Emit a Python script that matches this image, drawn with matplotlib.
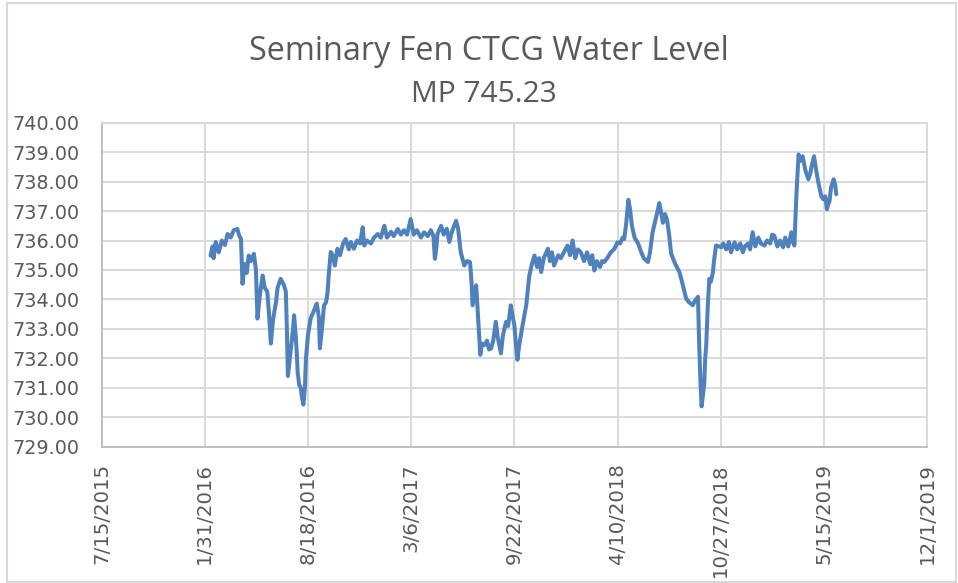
"""Seminary Fen CTCG water level, Excel-style line chart."""
import matplotlib
matplotlib.use("Agg")
import matplotlib.dates as mdates
import matplotlib.pyplot as plt
import numpy as np
import pandas as pd
from matplotlib.patches import Rectangle

TITLE = "Seminary Fen CTCG Water Level"
SUBTITLE = "MP 745.23"
START_DATE = "2015-07-15"
END_DATE = "2019-12-01"
TICK_STEP_DAYS = 200
Y_TICKS = np.arange(729, 741, 1)

# days since START_DATE
DAYS = [
    211, 215, 217, 221, 227, 233, 239, 244, 250, 256, 263, 266, 270, 273, 277, 281, 285, 289, 295, 299,
    302, 307, 312, 316, 321, 324, 328, 332, 338, 341, 347, 353, 357, 359, 361, 367, 371, 373, 376, 378,
    380, 383, 386, 388, 391, 394, 396, 400, 405, 411, 417, 421, 423, 427, 431, 435, 438, 440, 444, 448,
    452, 457, 462, 468, 473, 479, 483, 489, 495, 501, 506, 509, 514, 522, 528, 535, 541, 548, 553, 561,
    566, 574, 580, 586, 592, 599, 605, 611, 619, 625, 632, 638, 643, 646, 649, 651, 658, 663, 669, 674,
    679, 687, 691, 696, 703, 708, 714, 717, 719, 722, 726, 728, 731, 734, 737, 742, 747, 751, 755, 759,
    764, 768, 774, 778, 784, 788, 793, 797, 800, 803, 806, 809, 816, 823, 829, 834, 839, 844, 848, 852,
    857, 865, 869, 873, 877, 885, 890, 896, 903, 908, 913, 918, 923, 929, 935, 941, 947, 951, 955, 960,
    966, 970, 974, 980, 987, 994, 1000, 1005, 1010, 1013, 1017, 1021, 1024, 1028, 1033, 1040, 1046, 1051, 1059, 1063,
    1068, 1075, 1081, 1084, 1088, 1092, 1096, 1100, 1104, 1112, 1120, 1125, 1133, 1139, 1146, 1150, 1156, 1158, 1161, 1163,
    1166, 1168, 1170, 1172, 1175, 1178, 1181, 1185, 1187, 1191, 1197, 1201, 1205, 1211, 1216, 1220, 1227, 1232, 1238, 1243,
    1247, 1253, 1257, 1262, 1267, 1273, 1278, 1285, 1290, 1296, 1300, 1304, 1310, 1315, 1321, 1325, 1331, 1337, 1341, 1343,
    1345, 1347, 1351, 1354, 1359, 1364, 1370, 1374, 1376, 1381, 1385, 1389, 1395, 1399, 1403, 1406, 1408, 1411, 1414, 1419,
    1422, 1424,
]
LEVEL = [
    735.49, 735.80, 735.40, 735.95, 735.60, 736.00, 735.85, 736.22, 736.10, 736.35, 736.39, 736.20, 736.05, 734.53, 735.20, 734.90, 735.49, 735.30, 735.55, 735.00,
    733.35, 734.20, 734.81, 734.40, 734.26, 733.60, 732.50, 733.30, 733.92, 734.40, 734.70, 734.50, 734.26, 733.00, 731.40, 732.34, 733.00, 733.46, 732.80, 732.24,
    731.50, 731.10, 731.00, 730.70, 730.43, 731.00, 732.00, 732.80, 733.35, 733.60, 733.86, 733.40, 732.34, 733.00, 733.80, 733.90, 734.26, 734.80, 735.61, 735.50,
    735.15, 735.72, 735.50, 735.90, 736.05, 735.70, 735.95, 735.72, 736.00, 735.90, 736.45, 735.83, 736.00, 735.90, 736.10, 736.22, 736.10, 736.50, 736.10, 736.30,
    736.15, 736.39, 736.20, 736.35, 736.20, 736.73, 736.20, 736.35, 736.10, 736.28, 736.15, 736.35, 736.16, 735.38, 735.80, 736.22, 736.50, 736.20, 736.40, 735.95,
    736.30, 736.67, 736.40, 735.61, 735.15, 735.30, 735.27, 734.60, 733.80, 734.10, 734.48, 733.90, 733.00, 732.12, 732.50, 732.45, 732.60, 732.30, 732.34, 732.60,
    733.24, 732.70, 732.17, 732.80, 733.24, 733.10, 733.80, 733.40, 733.13, 732.50, 731.95, 732.40, 733.13, 733.80, 734.81, 735.20, 735.49, 735.10, 735.40, 734.93,
    735.40, 735.72, 735.30, 735.60, 735.15, 735.50, 735.40, 735.60, 735.83, 735.50, 736.00, 735.40, 735.70, 735.60, 735.30, 735.60, 735.20, 735.50, 734.98, 735.30,
    735.10, 735.30, 735.27, 735.40, 735.60, 735.72, 735.94, 735.90, 736.10, 736.05, 736.60, 737.38, 737.10, 736.50, 736.10, 735.90, 735.60, 735.40, 735.27, 735.60,
    736.28, 736.80, 737.27, 737.00, 736.60, 736.90, 736.70, 736.20, 735.55, 735.20, 734.93, 734.60, 734.03, 733.90, 733.80, 733.95, 734.09, 732.68, 731.10, 730.37,
    730.80, 731.10, 732.00, 732.45, 733.80, 734.70, 734.60, 734.93, 735.30, 735.83, 735.80, 735.77, 735.90, 735.70, 735.95, 735.60, 735.94, 735.70, 735.90, 735.60,
    735.80, 735.90, 735.70, 736.28, 735.80, 736.10, 735.90, 735.83, 736.00, 735.90, 736.20, 736.16, 735.80, 736.00, 735.77, 736.10, 735.80, 736.28, 735.90, 735.83,
    736.80, 737.60, 738.92, 738.70, 738.86, 738.40, 738.08, 738.30, 738.50, 738.86, 738.40, 738.00, 737.51, 737.40, 737.50, 737.06, 737.20, 737.34, 737.80, 738.08,
    737.90, 737.57,
]

LINE_COLOR = "#4F81BD"
GRID_COLOR = "#D9D9D9"
TEXT_COLOR = "#595959"

start = pd.Timestamp(START_DATE)
dates = start + pd.to_timedelta(DAYS, unit="D")
tick_dates = pd.date_range(START_DATE, END_DATE, freq=f"{TICK_STEP_DAYS}D")

fig = plt.figure(figsize=(9.58, 5.83), dpi=100)
ax = fig.add_axes([101.7 / 958, 1 - 446.7 / 583, (927 - 101.7) / 958, (446.7 - 122.7) / 583])

ax.plot(dates, LEVEL, color=LINE_COLOR, lw=2.9, solid_joinstyle="round", solid_capstyle="round", zorder=3)

ax.set_xlim(start, pd.Timestamp(END_DATE))
ax.set_ylim(Y_TICKS[0], Y_TICKS[-1])
ax.set_xticks(tick_dates)
ax.xaxis.set_major_formatter(plt.FuncFormatter(
    lambda v, _: (lambda d: f"{d.month}/{d.day}/{d.year}")(mdates.num2date(v))))
ax.set_yticks(Y_TICKS)
ax.set_yticklabels([f"{v:.2f}" for v in Y_TICKS])
ax.tick_params(axis="x", length=0, pad=12, labelsize=14.2, labelcolor=TEXT_COLOR, labelrotation=90)
ax.tick_params(axis="y", length=0, pad=16, labelsize=13.8, labelcolor=TEXT_COLOR)
ax.grid(True, color=GRID_COLOR, lw=1.4, zorder=0)
for spine in ax.spines.values():
    spine.set_color(GRID_COLOR)
    spine.set_linewidth(1.4)
ax.spines["left"].set_color("#BFBFBF")
ax.spines["bottom"].set_color("#BFBFBF")

fig.text(489 / 958, 1 - 60 / 583, TITLE, ha="center", va="baseline", fontsize=23.3,
         family="Open Sans", color=TEXT_COLOR)
fig.text(484 / 958, 1 - 101.7 / 583, SUBTITLE, ha="center", va="baseline", fontsize=21.5,
         family="Open Sans", color=TEXT_COLOR)

fig.patches.append(Rectangle((7 / 958, 1.5 / 583), 949 / 958, 579 / 583, transform=fig.transFigure,
                             fill=False, edgecolor="#D9D9D9", lw=1.5))

fig.savefig("out.png", dpi=100)
